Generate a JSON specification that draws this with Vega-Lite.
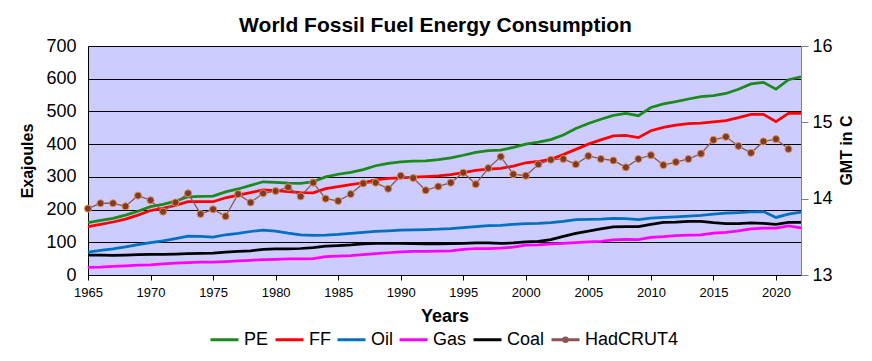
{
"$schema": "https://vega.github.io/schema/vega-lite/v6.json",
"width": 713, "height": 229,
"autosize": {"type": "none"},
"padding": {"left": 88, "top": 46, "right": 71, "bottom": 86},
"background": "white",
"title": {"text": "World Fossil Fuel Energy Consumption", "font": "Liberation Sans", "fontSize": 21, "fontWeight": "bold", "color": "black", "anchor": "middle", "frame": "group", "dx": -9, "offset": -16, "baseline": "alphabetic"},
"config": {
  "view": {"fill": "#ccccff", "stroke": null},
  "font": "Liberation Sans",
  "axis": {"labelFlush": false},
  "legend": {"orient": "none", "legendX": 121, "legendY": 278, "direction": "horizontal", "labelFontSize": 18, "labelFont": "Liberation Sans", "labelColor": "black", "symbolSize": 784, "symbolType": "stroke", "symbolStrokeWidth": 3, "labelOffset": 4, "columnPadding": 0, "padding": 0, "title": null}
},
"datasets": {
"energy": [
{"year":1965,"series":"PE","value":160},{"year":1966,"series":"PE","value":167},{"year":1967,"series":"PE","value":173},{"year":1968,"series":"PE","value":183},{"year":1969,"series":"PE","value":195},{"year":1970,"series":"PE","value":209},{"year":1971,"series":"PE","value":216},{"year":1972,"series":"PE","value":226},{"year":1973,"series":"PE","value":239},{"year":1974,"series":"PE","value":240},{"year":1975,"series":"PE","value":241},{"year":1976,"series":"PE","value":254},{"year":1977,"series":"PE","value":263},{"year":1978,"series":"PE","value":274},{"year":1979,"series":"PE","value":285},{"year":1980,"series":"PE","value":283},{"year":1981,"series":"PE","value":281},{"year":1982,"series":"PE","value":280},{"year":1983,"series":"PE","value":285},{"year":1984,"series":"PE","value":300},{"year":1985,"series":"PE","value":308},{"year":1986,"series":"PE","value":314},{"year":1987,"series":"PE","value":322},{"year":1988,"series":"PE","value":334},{"year":1989,"series":"PE","value":341},{"year":1990,"series":"PE","value":346},{"year":1991,"series":"PE","value":348},{"year":1992,"series":"PE","value":349},{"year":1993,"series":"PE","value":353},{"year":1994,"series":"PE","value":358},{"year":1995,"series":"PE","value":366},{"year":1996,"series":"PE","value":375},{"year":1997,"series":"PE","value":380},{"year":1998,"series":"PE","value":382},{"year":1999,"series":"PE","value":390},{"year":2000,"series":"PE","value":400},{"year":2001,"series":"PE","value":406},{"year":2002,"series":"PE","value":414},{"year":2003,"series":"PE","value":428},{"year":2004,"series":"PE","value":448},{"year":2005,"series":"PE","value":463},{"year":2006,"series":"PE","value":476},{"year":2007,"series":"PE","value":488},{"year":2008,"series":"PE","value":494},{"year":2009,"series":"PE","value":487},{"year":2010,"series":"PE","value":512},{"year":2011,"series":"PE","value":523},{"year":2012,"series":"PE","value":530},{"year":2013,"series":"PE","value":538},{"year":2014,"series":"PE","value":545},{"year":2015,"series":"PE","value":548},{"year":2016,"series":"PE","value":555},{"year":2017,"series":"PE","value":568},{"year":2018,"series":"PE","value":584},{"year":2019,"series":"PE","value":589},{"year":2020,"series":"PE","value":568},{"year":2021,"series":"PE","value":597},{"year":2022,"series":"PE","value":606},
{"year":1965,"series":"FF","value":148},{"year":1966,"series":"FF","value":155},{"year":1967,"series":"FF","value":162},{"year":1968,"series":"FF","value":171},{"year":1969,"series":"FF","value":183},{"year":1970,"series":"FF","value":197},{"year":1971,"series":"FF","value":204},{"year":1972,"series":"FF","value":213},{"year":1973,"series":"FF","value":224},{"year":1974,"series":"FF","value":224},{"year":1975,"series":"FF","value":224},{"year":1976,"series":"FF","value":236},{"year":1977,"series":"FF","value":244},{"year":1978,"series":"FF","value":252},{"year":1979,"series":"FF","value":260},{"year":1980,"series":"FF","value":258},{"year":1981,"series":"FF","value":255},{"year":1982,"series":"FF","value":252},{"year":1983,"series":"FF","value":251},{"year":1984,"series":"FF","value":264},{"year":1985,"series":"FF","value":270},{"year":1986,"series":"FF","value":276},{"year":1987,"series":"FF","value":282},{"year":1988,"series":"FF","value":291},{"year":1989,"series":"FF","value":295},{"year":1990,"series":"FF","value":297},{"year":1991,"series":"FF","value":299},{"year":1992,"series":"FF","value":301},{"year":1993,"series":"FF","value":303},{"year":1994,"series":"FF","value":307},{"year":1995,"series":"FF","value":313},{"year":1996,"series":"FF","value":320},{"year":1997,"series":"FF","value":324},{"year":1998,"series":"FF","value":326},{"year":1999,"series":"FF","value":333},{"year":2000,"series":"FF","value":343},{"year":2001,"series":"FF","value":347},{"year":2002,"series":"FF","value":354},{"year":2003,"series":"FF","value":368},{"year":2004,"series":"FF","value":384},{"year":2005,"series":"FF","value":400},{"year":2006,"series":"FF","value":413},{"year":2007,"series":"FF","value":425},{"year":2008,"series":"FF","value":427},{"year":2009,"series":"FF","value":420},{"year":2010,"series":"FF","value":441},{"year":2011,"series":"FF","value":451},{"year":2012,"series":"FF","value":458},{"year":2013,"series":"FF","value":463},{"year":2014,"series":"FF","value":464},{"year":2015,"series":"FF","value":468},{"year":2016,"series":"FF","value":472},{"year":2017,"series":"FF","value":481},{"year":2018,"series":"FF","value":491},{"year":2019,"series":"FF","value":491},{"year":2020,"series":"FF","value":469},{"year":2021,"series":"FF","value":494},{"year":2022,"series":"FF","value":494},
{"year":1965,"series":"Oil","value":70},{"year":1966,"series":"Oil","value":75},{"year":1967,"series":"Oil","value":80},{"year":1968,"series":"Oil","value":86},{"year":1969,"series":"Oil","value":93},{"year":1970,"series":"Oil","value":99},{"year":1971,"series":"Oil","value":104},{"year":1972,"series":"Oil","value":111},{"year":1973,"series":"Oil","value":119},{"year":1974,"series":"Oil","value":118},{"year":1975,"series":"Oil","value":116},{"year":1976,"series":"Oil","value":123},{"year":1977,"series":"Oil","value":127},{"year":1978,"series":"Oil","value":133},{"year":1979,"series":"Oil","value":137},{"year":1980,"series":"Oil","value":134},{"year":1981,"series":"Oil","value":128},{"year":1982,"series":"Oil","value":123},{"year":1983,"series":"Oil","value":121},{"year":1984,"series":"Oil","value":122},{"year":1985,"series":"Oil","value":124},{"year":1986,"series":"Oil","value":127},{"year":1987,"series":"Oil","value":130},{"year":1988,"series":"Oil","value":133},{"year":1989,"series":"Oil","value":135},{"year":1990,"series":"Oil","value":137},{"year":1991,"series":"Oil","value":138},{"year":1992,"series":"Oil","value":139},{"year":1993,"series":"Oil","value":140},{"year":1994,"series":"Oil","value":142},{"year":1995,"series":"Oil","value":145},{"year":1996,"series":"Oil","value":148},{"year":1997,"series":"Oil","value":151},{"year":1998,"series":"Oil","value":152},{"year":1999,"series":"Oil","value":155},{"year":2000,"series":"Oil","value":157},{"year":2001,"series":"Oil","value":158},{"year":2002,"series":"Oil","value":160},{"year":2003,"series":"Oil","value":164},{"year":2004,"series":"Oil","value":169},{"year":2005,"series":"Oil","value":170},{"year":2006,"series":"Oil","value":171},{"year":2007,"series":"Oil","value":173},{"year":2008,"series":"Oil","value":172},{"year":2009,"series":"Oil","value":169},{"year":2010,"series":"Oil","value":174},{"year":2011,"series":"Oil","value":176},{"year":2012,"series":"Oil","value":178},{"year":2013,"series":"Oil","value":180},{"year":2014,"series":"Oil","value":182},{"year":2015,"series":"Oil","value":186},{"year":2016,"series":"Oil","value":189},{"year":2017,"series":"Oil","value":191},{"year":2018,"series":"Oil","value":193},{"year":2019,"series":"Oil","value":194},{"year":2020,"series":"Oil","value":176},{"year":2021,"series":"Oil","value":186},{"year":2022,"series":"Oil","value":192},
{"year":1965,"series":"Gas","value":23},{"year":1966,"series":"Gas","value":24},{"year":1967,"series":"Gas","value":26},{"year":1968,"series":"Gas","value":28},{"year":1969,"series":"Gas","value":30},{"year":1970,"series":"Gas","value":31},{"year":1971,"series":"Gas","value":34},{"year":1972,"series":"Gas","value":36},{"year":1973,"series":"Gas","value":38},{"year":1974,"series":"Gas","value":39},{"year":1975,"series":"Gas","value":39},{"year":1976,"series":"Gas","value":41},{"year":1977,"series":"Gas","value":43},{"year":1978,"series":"Gas","value":45},{"year":1979,"series":"Gas","value":47},{"year":1980,"series":"Gas","value":48},{"year":1981,"series":"Gas","value":49},{"year":1982,"series":"Gas","value":49},{"year":1983,"series":"Gas","value":50},{"year":1984,"series":"Gas","value":56},{"year":1985,"series":"Gas","value":58},{"year":1986,"series":"Gas","value":59},{"year":1987,"series":"Gas","value":62},{"year":1988,"series":"Gas","value":65},{"year":1989,"series":"Gas","value":68},{"year":1990,"series":"Gas","value":71},{"year":1991,"series":"Gas","value":72},{"year":1992,"series":"Gas","value":72},{"year":1993,"series":"Gas","value":73},{"year":1994,"series":"Gas","value":74},{"year":1995,"series":"Gas","value":78},{"year":1996,"series":"Gas","value":81},{"year":1997,"series":"Gas","value":81},{"year":1998,"series":"Gas","value":82},{"year":1999,"series":"Gas","value":85},{"year":2000,"series":"Gas","value":91},{"year":2001,"series":"Gas","value":92},{"year":2002,"series":"Gas","value":95},{"year":2003,"series":"Gas","value":97},{"year":2004,"series":"Gas","value":99},{"year":2005,"series":"Gas","value":101},{"year":2006,"series":"Gas","value":103},{"year":2007,"series":"Gas","value":107},{"year":2008,"series":"Gas","value":109},{"year":2009,"series":"Gas","value":108},{"year":2010,"series":"Gas","value":115},{"year":2011,"series":"Gas","value":117},{"year":2012,"series":"Gas","value":120},{"year":2013,"series":"Gas","value":122},{"year":2014,"series":"Gas","value":123},{"year":2015,"series":"Gas","value":128},{"year":2016,"series":"Gas","value":130},{"year":2017,"series":"Gas","value":135},{"year":2018,"series":"Gas","value":141},{"year":2019,"series":"Gas","value":143},{"year":2020,"series":"Gas","value":143},{"year":2021,"series":"Gas","value":150},{"year":2022,"series":"Gas","value":144},
{"year":1965,"series":"Coal","value":61},{"year":1966,"series":"Coal","value":61},{"year":1967,"series":"Coal","value":60},{"year":1968,"series":"Coal","value":61},{"year":1969,"series":"Coal","value":62},{"year":1970,"series":"Coal","value":63},{"year":1971,"series":"Coal","value":63},{"year":1972,"series":"Coal","value":64},{"year":1973,"series":"Coal","value":65},{"year":1974,"series":"Coal","value":66},{"year":1975,"series":"Coal","value":67},{"year":1976,"series":"Coal","value":70},{"year":1977,"series":"Coal","value":72},{"year":1978,"series":"Coal","value":74},{"year":1979,"series":"Coal","value":78},{"year":1980,"series":"Coal","value":80},{"year":1981,"series":"Coal","value":80},{"year":1982,"series":"Coal","value":81},{"year":1983,"series":"Coal","value":84},{"year":1984,"series":"Coal","value":88},{"year":1985,"series":"Coal","value":90},{"year":1986,"series":"Coal","value":92},{"year":1987,"series":"Coal","value":95},{"year":1988,"series":"Coal","value":97},{"year":1989,"series":"Coal","value":97},{"year":1990,"series":"Coal","value":97},{"year":1991,"series":"Coal","value":96},{"year":1992,"series":"Coal","value":95},{"year":1993,"series":"Coal","value":95},{"year":1994,"series":"Coal","value":96},{"year":1995,"series":"Coal","value":97},{"year":1996,"series":"Coal","value":98},{"year":1997,"series":"Coal","value":98},{"year":1998,"series":"Coal","value":97},{"year":1999,"series":"Coal","value":98},{"year":2000,"series":"Coal","value":101},{"year":2001,"series":"Coal","value":103},{"year":2002,"series":"Coal","value":108},{"year":2003,"series":"Coal","value":118},{"year":2004,"series":"Coal","value":127},{"year":2005,"series":"Coal","value":134},{"year":2006,"series":"Coal","value":141},{"year":2007,"series":"Coal","value":147},{"year":2008,"series":"Coal","value":148},{"year":2009,"series":"Coal","value":148},{"year":2010,"series":"Coal","value":155},{"year":2011,"series":"Coal","value":161},{"year":2012,"series":"Coal","value":162},{"year":2013,"series":"Coal","value":164},{"year":2014,"series":"Coal","value":164},{"year":2015,"series":"Coal","value":160},{"year":2016,"series":"Coal","value":157},{"year":2017,"series":"Coal","value":157},{"year":2018,"series":"Coal","value":159},{"year":2019,"series":"Coal","value":158},{"year":2020,"series":"Coal","value":155},{"year":2021,"series":"Coal","value":161},{"year":2022,"series":"Coal","value":161}
],
"temp": [
{"year":1965,"series":"HadCRUT4","gmt":13.87},{"year":1966,"series":"HadCRUT4","gmt":13.94},{"year":1967,"series":"HadCRUT4","gmt":13.94},{"year":1968,"series":"HadCRUT4","gmt":13.90},{"year":1969,"series":"HadCRUT4","gmt":14.04},{"year":1970,"series":"HadCRUT4","gmt":13.98},{"year":1971,"series":"HadCRUT4","gmt":13.83},{"year":1972,"series":"HadCRUT4","gmt":13.95},{"year":1973,"series":"HadCRUT4","gmt":14.07},{"year":1974,"series":"HadCRUT4","gmt":13.80},{"year":1975,"series":"HadCRUT4","gmt":13.86},{"year":1976,"series":"HadCRUT4","gmt":13.77},{"year":1977,"series":"HadCRUT4","gmt":14.06},{"year":1978,"series":"HadCRUT4","gmt":13.95},{"year":1979,"series":"HadCRUT4","gmt":14.07},{"year":1980,"series":"HadCRUT4","gmt":14.10},{"year":1981,"series":"HadCRUT4","gmt":14.15},{"year":1982,"series":"HadCRUT4","gmt":14.03},{"year":1983,"series":"HadCRUT4","gmt":14.21},{"year":1984,"series":"HadCRUT4","gmt":14.00},{"year":1985,"series":"HadCRUT4","gmt":13.97},{"year":1986,"series":"HadCRUT4","gmt":14.06},{"year":1987,"series":"HadCRUT4","gmt":14.20},{"year":1988,"series":"HadCRUT4","gmt":14.21},{"year":1989,"series":"HadCRUT4","gmt":14.13},{"year":1990,"series":"HadCRUT4","gmt":14.30},{"year":1991,"series":"HadCRUT4","gmt":14.27},{"year":1992,"series":"HadCRUT4","gmt":14.11},{"year":1993,"series":"HadCRUT4","gmt":14.16},{"year":1994,"series":"HadCRUT4","gmt":14.21},{"year":1995,"series":"HadCRUT4","gmt":14.34},{"year":1996,"series":"HadCRUT4","gmt":14.19},{"year":1997,"series":"HadCRUT4","gmt":14.40},{"year":1998,"series":"HadCRUT4","gmt":14.55},{"year":1999,"series":"HadCRUT4","gmt":14.32},{"year":2000,"series":"HadCRUT4","gmt":14.30},{"year":2001,"series":"HadCRUT4","gmt":14.45},{"year":2002,"series":"HadCRUT4","gmt":14.51},{"year":2003,"series":"HadCRUT4","gmt":14.52},{"year":2004,"series":"HadCRUT4","gmt":14.45},{"year":2005,"series":"HadCRUT4","gmt":14.56},{"year":2006,"series":"HadCRUT4","gmt":14.52},{"year":2007,"series":"HadCRUT4","gmt":14.50},{"year":2008,"series":"HadCRUT4","gmt":14.41},{"year":2009,"series":"HadCRUT4","gmt":14.52},{"year":2010,"series":"HadCRUT4","gmt":14.57},{"year":2011,"series":"HadCRUT4","gmt":14.44},{"year":2012,"series":"HadCRUT4","gmt":14.48},{"year":2013,"series":"HadCRUT4","gmt":14.52},{"year":2014,"series":"HadCRUT4","gmt":14.59},{"year":2015,"series":"HadCRUT4","gmt":14.77},{"year":2016,"series":"HadCRUT4","gmt":14.81},{"year":2017,"series":"HadCRUT4","gmt":14.69},{"year":2018,"series":"HadCRUT4","gmt":14.60},{"year":2019,"series":"HadCRUT4","gmt":14.75},{"year":2020,"series":"HadCRUT4","gmt":14.78},{"year":2021,"series":"HadCRUT4","gmt":14.65}
]
},
"layer": [
{
  "data": {"name": "energy"},
  "mark": {"type": "line", "strokeWidth": 2.75, "clip": true},
  "encoding": {
    "x": {"field": "year", "type": "quantitative", "scale": {"domain": [1965, 2022], "nice": false, "zero": false},
      "axis": {"values": [1965,1970,1975,1980,1985,1990,1995,2000,2005,2010,2015,2020], "format": "d", "labelFontSize": 13, "labelColor": "black", "tickColor": "black", "tickSize": 5, "domainColor": "black", "grid": false, "labelPadding": 6, "labelFlush": false, "title": "Years", "titleFontSize": 18, "titleFontWeight": "bold", "titleColor": "black", "titlePadding": 8}},
    "y": {"field": "value", "type": "quantitative", "scale": {"domain": [0, 700], "nice": false},
      "axis": {"orient": "left", "values": [0,100,200,300,400,500,600,700], "labelFontSize": 18, "labelColor": "black", "tickSize": 0, "labelPadding": 12, "labelFlush": false, "grid": true, "gridColor": "black", "gridOpacity": 1, "gridWidth": 1, "domainColor": "black", "title": "Exajoules", "titleFontSize": 16, "titleFontWeight": "bold", "titleColor": "black", "titlePadding": 10}},
    "color": {"field": "series", "type": "nominal",
      "scale": {"domain": ["PE","FF","Oil","Gas","Coal","HadCRUT4"], "range": ["#1a8a1a","#ff0000","#0070c0","#ff00ff","#000000","#8b5555"]},
      "legend": {"encode": {"symbols": {"update": {
        "shape": {"signal": "datum.value === 'HadCRUT4' ? 'M-1,0H1M0.13,0A0.13,0.13,0,1,1,-0.13,0A0.13,0.13,0,1,1,0.13,0Z' : 'stroke'"},
        "fill": {"signal": "datum.value === 'HadCRUT4' ? '#7b3a2e' : 'transparent'"}}}}}},
    "order": {"field": "year", "type": "quantitative"}
  }
},
{
  "data": {"name": "temp"},
  "encoding": {
    "x": {"field": "year", "type": "quantitative"},
    "y": {"field": "gmt", "type": "quantitative", "scale": {"domain": [13, 16], "nice": false, "zero": false},
      "axis": {"orient": "right", "values": [13,14,15,16], "labelFontSize": 18, "labelColor": "black", "tickColor": "#808080", "tickSize": 7, "domainColor": "#808080", "labelPadding": 4, "labelFlush": false, "grid": false, "title": "GMT in C", "titleAngle": 270, "titleBaseline": "top", "titleY": 104, "titleFontSize": 16, "titleFontWeight": "bold", "titleColor": "black", "titlePadding": 6}}
  },
  "layer": [
    {"mark": {"type": "line", "strokeWidth": 1.3}, "encoding": {"color": {"field": "series", "type": "nominal"}}},
    {"mark": {"type": "point", "shape": "circle", "filled": true, "fill": "#7b3a2e", "stroke": "#e8903a", "strokeWidth": 1, "size": 50, "opacity": 1}}
  ]
}
],
"resolve": {"scale": {"y": "independent"}}
}
